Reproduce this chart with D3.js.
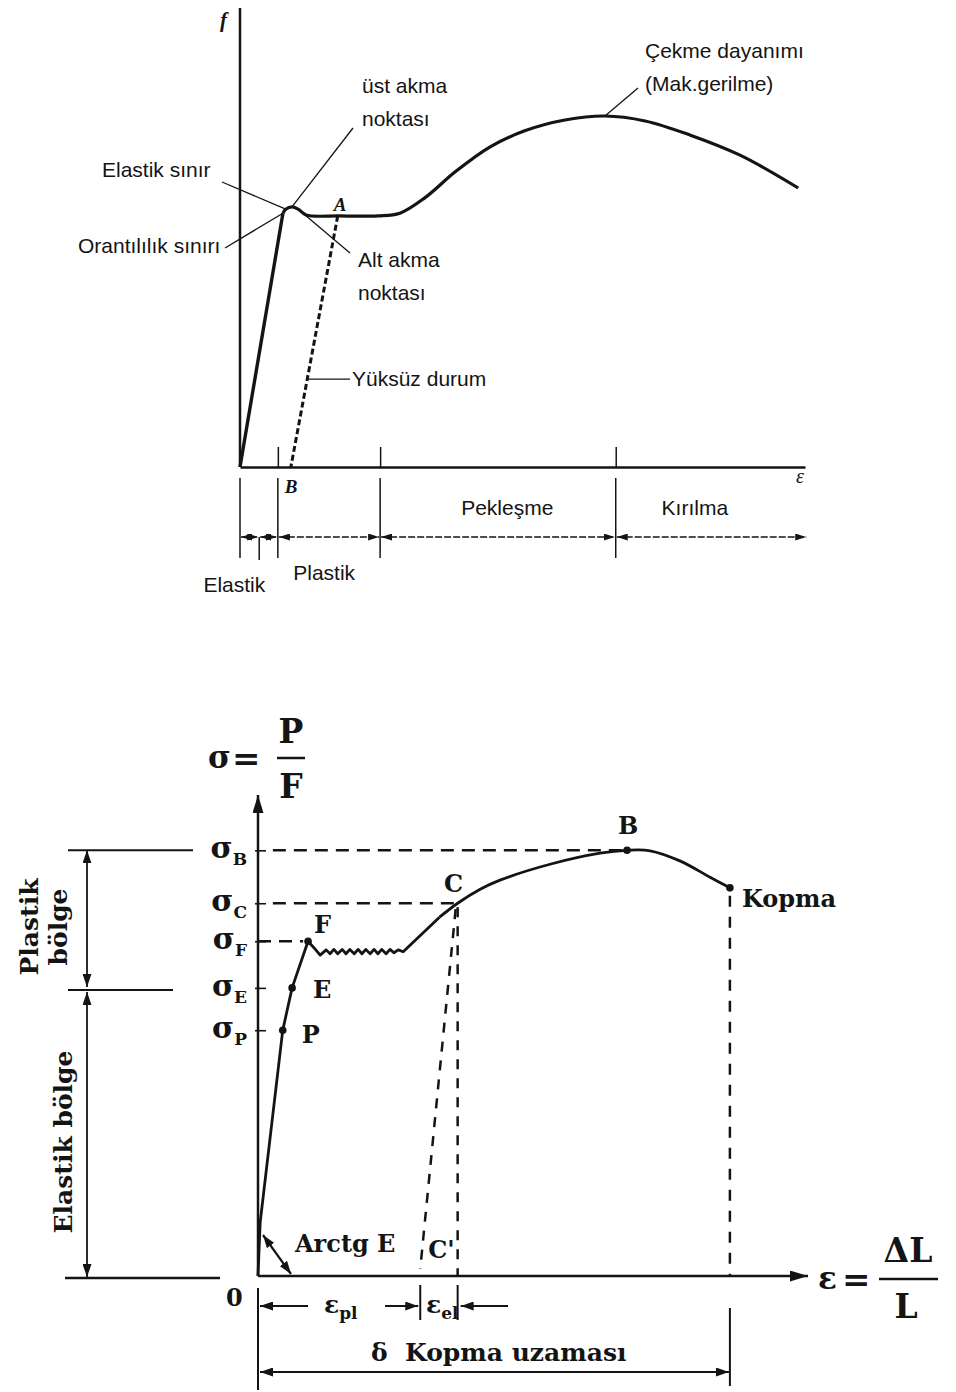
<!DOCTYPE html>
<html>
<head>
<meta charset="utf-8">
<script src="https://cdn.jsdelivr.net/npm/d3@7"></script>
<style>
  body { margin: 0; background: #fff; }
</style>
</head>
<body>
<svg width="956" height="1392"></svg>
<script>
// ---------- top diagram: force (f) vs strain (ε), both in % of axis length ----------
const topCurve = [
  [0, 0], [7.6, 56.4], [8.1, 57.3], [9.2, 57.8], [10.3, 57.3], [11.7, 56.0],
  [17.7, 55.8], [24.4, 55.8], [28.3, 56.4], [32.7, 59.8], [38.1, 65.6],
  [44.2, 71.1], [50.4, 74.7], [57.5, 77.1], [64.6, 78.0], [71.7, 76.9],
  [79.6, 73.8], [88.5, 69.3], [98.8, 62.0]
];
const topUnload = [[17.3, 55.8], [9.0, 0]];          // A -> B
const topZoneEdges = [0, 3.4, 6.7, 24.8, 66.5, 100.4];
const topZoneTicks = [6.7, 24.8, 66.5];
const topZoneNames = ["Elastik", "Plastik", "Pekleşme", "Kırılma"];
const topZoneNameAt = [-1.0, 14.9, 47.3, 80.5];

// ---------- bottom diagram: σ = P/F vs ε = ΔL/L ----------
const bottomCurve = [
  [0, 0], [0.4, 11.2], [4.5, 51.1], [6.2, 59.9], [9.1, 69.6], [10.2, 68.2], [11.3, 66.7],
  [12.4, 67.8], [13.1, 67.0], [13.8, 67.9], [14.5, 67.0], [15.3, 67.9], [16.0, 67.0],
  [16.7, 67.9], [17.5, 67.0], [18.2, 67.9], [18.9, 67.0], [19.6, 67.9], [20.4, 67.0],
  [21.1, 67.9], [21.8, 67.0], [22.5, 67.9], [23.3, 67.0], [24.0, 67.9], [24.7, 67.2],
  [25.5, 67.8], [26.4, 67.4], [33.0, 74.6]
];
const hardeningCurve = [
  [33.0, 74.6], [36.3, 77.5], [40.4, 80.4], [44.0, 82.3], [53.1, 85.6], [62.2, 87.9],
  [67.1, 88.5], [71.3, 88.4], [76.7, 86.3], [82.2, 82.9], [85.8, 80.7]
];
const pointNames = ["P", "E", "F", "C", "B", "Kopma"];
const pointStrain = [4.5, 6.2, 9.1, 36.3, 67.1, 85.8];
const pointStress = [51.1, 59.9, 69.6, 77.5, 88.5, 80.7];
const levelNames = ["B", "C", "F", "E", "P"];
const unloadStrain = 29.5;   // C'

const ink = "#141414";
const svg = d3.select("svg");
const defs = svg.append("defs");

function marker(id, w, h) {
  defs.append("marker")
    .attr("id", id)
    .attr("viewBox", "0 0 10 10")
    .attr("preserveAspectRatio", "none")
    .attr("refX", 10).attr("refY", 5)
    .attr("markerUnits", "userSpaceOnUse")
    .attr("markerWidth", w).attr("markerHeight", h)
    .attr("orient", "auto-start-reverse")
    .append("path").attr("d", "M0,0L10,5L0,10z").attr("fill", ink);
}
marker("arT", 11, 7);
marker("arB", 13, 9);
marker("arAxis", 18, 11);

// ================= TOP =================
const xT = d3.scaleLinear().domain([0, 100]).range([240, 805]);
const yT = d3.scaleLinear().domain([0, 100]).range([467, 17]);
const lineT = d3.line().x(d => xT(d[0])).y(d => yT(d[1]));
const topG = svg.append("g");

// axes
topG.append("line")
  .attr("x1", xT(0)).attr("y1", yT(0)).attr("x2", xT(0)).attr("y2", yT(102))
  .attr("stroke", ink).attr("stroke-width", 2.5);
topG.append("g")
  .attr("transform", `translate(0,${yT(0)})`)
  .attr("color", ink)
  .call(d3.axisBottom(xT).tickValues(topZoneTicks).tickSizeInner(-20).tickSizeOuter(0).tickFormat(""))
  .call(g => g.select(".domain").attr("stroke-width", 2.5))
  .call(g => g.selectAll(".tick line").attr("stroke-width", 1.5));

// curve: straight elastic part then smooth rest
topG.append("path")
  .attr("d", lineT(topCurve.slice(0, 2)))
  .attr("fill", "none").attr("stroke", ink).attr("stroke-width", 3.4);
topG.append("path")
  .attr("d", lineT.curve(d3.curveCatmullRom.alpha(0.5))(topCurve.slice(1)))
  .attr("fill", "none").attr("stroke", ink).attr("stroke-width", 3.2);
lineT.curve(d3.curveLinear);
topG.append("path")
  .attr("d", lineT(topUnload))
  .attr("fill", "none").attr("stroke", ink).attr("stroke-width", 3)
  .attr("stroke-dasharray", "6,3");

// zone markers below the axis
topG.selectAll(".zoneLine")
  .data(topZoneEdges.slice(0, 5).filter((d, i) => i !== 1))
  .join("line")
  .attr("x1", d => xT(d)).attr("x2", d => xT(d))
  .attr("y1", 478).attr("y2", 558)
  .attr("stroke", ink).attr("stroke-width", 1.5);
topG.append("line")
  .attr("x1", xT(topZoneEdges[1])).attr("x2", xT(topZoneEdges[1]))
  .attr("y1", 537).attr("y2", 560)
  .attr("stroke", ink).attr("stroke-width", 1.5);
topG.selectAll(".zoneArrow")
  .data(d3.pairs(topZoneEdges))
  .join("line")
  .attr("x1", d => xT(d[0]) + 1).attr("x2", d => xT(d[1]) - 1)
  .attr("y1", 537).attr("y2", 537)
  .attr("stroke", ink).attr("stroke-width", 1.5)
  .attr("stroke-dasharray", "7,2")
  .attr("marker-start", "url(#arT)").attr("marker-end", "url(#arT)");

const sans = "'Liberation Sans', Arial, sans-serif";
const zoneNameY = [592, 580, 515, 515];
topG.selectAll(".zoneName")
  .data(topZoneNames)
  .join("text")
  .attr("x", (d, i) => xT(topZoneNameAt[i]))
  .attr("y", (d, i) => zoneNameY[i])
  .attr("text-anchor", "middle")
  .attr("font-family", sans).attr("font-size", 21).attr("fill", ink)
  .text(d => d);

// letters f, ε, A, B
const serif = "'Liberation Serif', 'Times New Roman', serif";
topG.append("text").attr("x", 220).attr("y", 27).text("f")
  .attr("font-family", serif).attr("font-style", "italic").attr("font-weight", "bold")
  .attr("font-size", 21).attr("fill", ink);
topG.append("text").attr("x", 796).attr("y", 483).text("ε")
  .attr("font-family", serif).attr("font-style", "italic").attr("font-size", 20).attr("fill", ink);
topG.append("text").attr("x", xT(topUnload[0][0]) - 4).attr("y", 211).text("A")
  .attr("font-family", serif).attr("font-style", "italic").attr("font-weight", "bold")
  .attr("font-size", 19).attr("fill", ink);
topG.append("text").attr("x", xT(topUnload[1][0]) - 6).attr("y", 493).text("B")
  .attr("font-family", serif).attr("font-style", "italic").attr("font-weight", "bold")
  .attr("font-size", 19).attr("fill", ink);

// callouts
const pt = i => [xT(topCurve[i][0]), yT(topCurve[i][1])];
const unloadAt = t => [
  xT(d3.interpolateNumber(topUnload[0][0], topUnload[1][0])(t)),
  yT(d3.interpolateNumber(topUnload[0][1], topUnload[1][1])(t))
];
const notes = [
  { lines: ["Elastik sınır"], x: 102, y: 177, from: [222, 182], to: pt(2) },
  { lines: ["Orantılılık sınırı"], x: 78, y: 253, from: [225, 248], to: pt(1) },
  { lines: ["üst akma", "noktası"], x: 362, y: 93, from: [353, 128], to: pt(3) },
  { lines: ["Alt akma", "noktası"], x: 358, y: 267, from: [350, 253], to: pt(4) },
  { lines: ["Çekme dayanımı", "(Mak.gerilme)"], x: 645, y: 58, from: [638, 88], to: pt(14) },
  { lines: ["Yüksüz durum"], x: 352, y: 386, from: [350, unloadAt(0.65)[1]], to: unloadAt(0.65) }
];
notes.forEach(n => {
  topG.append("line")
    .attr("x1", n.from[0]).attr("y1", n.from[1]).attr("x2", n.to[0]).attr("y2", n.to[1])
    .attr("stroke", ink).attr("stroke-width", 1.3);
  const t = topG.append("text")
    .attr("font-family", sans).attr("font-size", 21).attr("fill", ink);
  n.lines.forEach((s, i) => {
    t.append("tspan").attr("x", n.x).attr("y", n.y + i * 33).text(s);
  });
});

// ================= BOTTOM =================
const xB = d3.scaleLinear().domain([0, 100]).range([258, 808]);
const yB = d3.scaleLinear().domain([0, 100]).range([1276, 795]);
const lineB = d3.line().x(d => xB(d[0])).y(d => yB(d[1]));
const bot = svg.append("g");
const bserif = "'DejaVu Serif', 'Liberation Serif', serif";

const byName = name => {
  const i = pointNames.indexOf(name);
  return [pointStrain[i], pointStress[i]];
};
const levels = levelNames.map(n => byName(n)[1]);

// axes
bot.append("line")
  .attr("x1", xB(0)).attr("y1", yB(0)).attr("x2", xB(0)).attr("y2", yB(100))
  .attr("stroke", ink).attr("stroke-width", 2.5).attr("marker-end", "url(#arAxis)");
bot.append("line")
  .attr("x1", xB(0)).attr("y1", yB(0)).attr("x2", xB(100)).attr("y2", yB(0))
  .attr("stroke", ink).attr("stroke-width", 2.5).attr("marker-end", "url(#arAxis)");
bot.append("g")
  .attr("transform", `translate(${xB(0) - 3},0)`)
  .attr("color", ink)
  .call(d3.axisRight(yB).tickValues(levels).tickSize(11).tickFormat(""))
  .call(g => g.select(".domain").remove())
  .call(g => g.selectAll(".tick line").attr("stroke-width", 1.6));

// stress level labels σ_X
bot.selectAll(".lvl")
  .data(levelNames)
  .join("text")
  .attr("x", 247)
  .attr("y", (d, i) => yB(levels[i]) + 8)
  .attr("text-anchor", "end")
  .attr("font-family", bserif).attr("font-weight", "bold").attr("fill", ink)
  .each(function (d) {
    const t = d3.select(this);
    t.append("tspan").attr("font-size", 30).text("σ");
    t.append("tspan").attr("font-size", 17).attr("dy", 7).text(d);
  });

// dashed helper lines
const dashed = (x1, y1, x2, y2, dash) => bot.append("line")
  .attr("x1", x1).attr("y1", y1).attr("x2", x2).attr("y2", y2)
  .attr("stroke", ink).attr("stroke-width", 2.5).attr("stroke-dasharray", dash);
const B = byName("B"), C = byName("C"), F = byName("F"), K = byName("Kopma");
dashed(xB(2.7), yB(B[1]), xB(B[0]) - 4, yB(B[1]), "13,8");
dashed(xB(2.7), yB(C[1]), xB(C[0]), yB(C[1]), "13,8");
dashed(xB(0), yB(F[1]), xB(8.2), yB(F[1]), "13,8");
dashed(xB(C[0]), yB(C[1]) + 4, xB(C[0]), yB(0), "10,9");
dashed(xB(C[0]) - 2, yB(C[1]) + 6, xB(unloadStrain), yB(1.5), "10,9");
dashed(xB(K[0]), yB(K[1]) + 8, xB(K[0]), yB(0), "11,10");

// curve
bot.append("path")
  .attr("d", lineB(bottomCurve))
  .attr("fill", "none").attr("stroke", ink).attr("stroke-width", 2.8)
  .attr("stroke-linejoin", "round");
bot.append("path")
  .attr("d", lineB.curve(d3.curveCatmullRom.alpha(0.5))(hardeningCurve))
  .attr("fill", "none").attr("stroke", ink).attr("stroke-width", 2.8);

bot.selectAll(".dot")
  .data(pointNames.filter(n => n !== "C"))
  .join("circle")
  .attr("cx", d => xB(byName(d)[0]))
  .attr("cy", d => yB(byName(d)[1]))
  .attr("r", 3.8).attr("fill", ink);

// point labels
const pointLabelOffset = {
  P: [19, 13, "start"], E: [21, 10, "start"], F: [6, -8, "start"],
  C: [-4, -11, "middle"], B: [1, -16, "middle"], Kopma: [12, 19, "start"]
};
bot.selectAll(".plab")
  .data(pointNames)
  .join("text")
  .attr("x", d => xB(byName(d)[0]) + pointLabelOffset[d][0])
  .attr("y", d => yB(byName(d)[1]) + pointLabelOffset[d][1])
  .attr("text-anchor", d => pointLabelOffset[d][2])
  .attr("font-family", bserif).attr("font-weight", "bold")
  .attr("font-size", 24).attr("fill", ink)
  .text(d => d);
bot.append("text")
  .attr("x", xB(unloadStrain) + 8).attr("y", yB(0) - 18)
  .attr("font-family", bserif).attr("font-weight", "bold").attr("font-size", 24).attr("fill", ink)
  .text("C'");

// Arctg E
bot.append("line")
  .attr("x1", 263).attr("y1", 1235).attr("x2", 291).attr("y2", 1274)
  .attr("stroke", ink).attr("stroke-width", 2.2)
  .attr("marker-start", "url(#arB)").attr("marker-end", "url(#arB)");
bot.append("text").attr("x", 295).attr("y", 1252)
  .attr("font-family", bserif).attr("font-weight", "bold").attr("font-size", 24).attr("fill", ink)
  .text("Arctg E");
bot.append("text").attr("x", 226).attr("y", 1306)
  .attr("font-family", bserif).attr("font-weight", "bold").attr("font-size", 24).attr("fill", ink)
  .text("0");

// axis titles
const title = (x, y, size, s, anchor) => bot.append("text")
  .attr("x", x).attr("y", y).attr("text-anchor", anchor || "start")
  .attr("font-family", bserif).attr("font-weight", "bold").attr("font-size", size).attr("fill", ink)
  .text(s);
title(208, 768, 31, "σ");
title(232, 770, 34, "=");
bot.append("line").attr("x1", 277).attr("x2", 305).attr("y1", 758).attr("y2", 758)
  .attr("stroke", ink).attr("stroke-width", 2.5);
title(291, 743, 33, "P", "middle");
title(291, 798, 33, "F", "middle");

title(818, 1289, 31, "ε");
title(842, 1291, 34, "=");
bot.append("line").attr("x1", 879).attr("x2", 938).attr("y1", 1279).attr("y2", 1279)
  .attr("stroke", ink).attr("stroke-width", 2.5);
title(908, 1262, 33, "ΔL", "middle");
title(906, 1318, 33, "L", "middle");

// left region brackets
const solid = (x1, y1, x2, y2, w) => bot.append("line")
  .attr("x1", x1).attr("y1", y1).attr("x2", x2).attr("y2", y2)
  .attr("stroke", ink).attr("stroke-width", w || 2);
const E = byName("E");
solid(68, yB(B[1]), 193, yB(B[1]));
solid(68, yB(E[1]) + 2, 173, yB(E[1]) + 2);
solid(65, yB(0) + 2, 220, yB(0) + 2, 2.5);
bot.append("line")
  .attr("x1", 87).attr("x2", 87).attr("y1", yB(B[1])).attr("y2", yB(E[1]) - 1)
  .attr("stroke", ink).attr("stroke-width", 1.8)
  .attr("marker-start", "url(#arB)").attr("marker-end", "url(#arB)");
bot.append("line")
  .attr("x1", 87).attr("x2", 87).attr("y1", yB(E[1]) + 4).attr("y2", yB(0) + 1)
  .attr("stroke", ink).attr("stroke-width", 1.8)
  .attr("marker-start", "url(#arB)").attr("marker-end", "url(#arB)");
const vtext = (x, y, s) => bot.append("text")
  .attr("transform", `translate(${x},${y}) rotate(-90)`)
  .attr("text-anchor", "middle")
  .attr("font-family", bserif).attr("font-weight", "bold").attr("font-size", 25).attr("fill", ink)
  .text(s);
vtext(38, 927, "Plastik");
vtext(67, 927, "bölge");
vtext(72, 1142, "Elastik bölge");

// strain dimensions under the axis
solid(xB(0), 1288, xB(0), 1390, 2);
solid(xB(K[0]), 1308, xB(K[0]), 1386, 2);
solid(xB(unloadStrain), 1285, xB(unloadStrain), 1320, 2);
solid(xB(C[0]), 1285, xB(C[0]), 1320, 2);
const arrow = (x1, y, x2) => bot.append("line")
  .attr("x1", x1).attr("x2", x2).attr("y1", y).attr("y2", y)
  .attr("stroke", ink).attr("stroke-width", 2)
  .attr("marker-end", "url(#arB)");
arrow(308, 1306, xB(0) + 2);
arrow(385, 1306, xB(unloadStrain) - 2);
arrow(508, 1306, xB(C[0]) + 3);
bot.append("line")
  .attr("x1", xB(0) + 2).attr("x2", xB(K[0]) - 1).attr("y1", 1372).attr("y2", 1372)
  .attr("stroke", ink).attr("stroke-width", 2.2)
  .attr("marker-start", "url(#arB)").attr("marker-end", "url(#arB)");

const subLabel = (x, y, main, sub) => {
  const t = bot.append("text").attr("x", x).attr("y", y)
    .attr("font-family", bserif).attr("font-weight", "bold").attr("fill", ink);
  t.append("tspan").attr("font-size", 25).text(main);
  t.append("tspan").attr("font-size", 17).attr("dy", 6).text(sub);
};
subLabel(324, 1313, "ε", "pl");
subLabel(426, 1313, "ε", "el");
title(371, 1361, 25, "δ");
title(405, 1361, 25, "Kopma uzaması");
</script>
</body>
</html>
